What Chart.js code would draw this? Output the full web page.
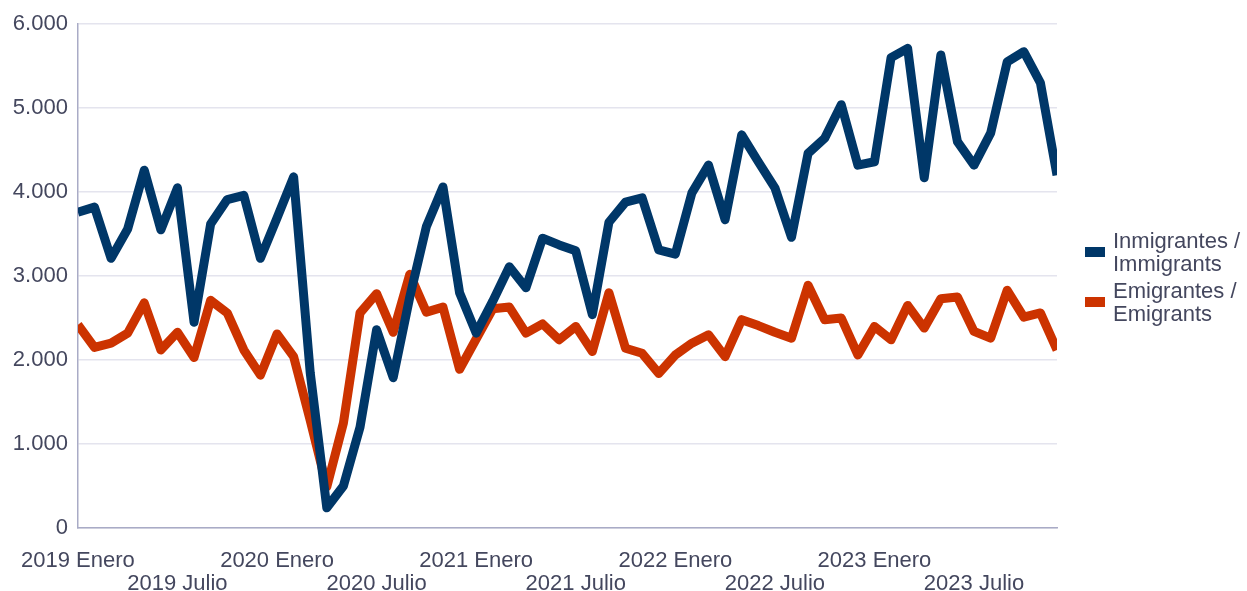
<!DOCTYPE html>
<html lang="es">
<head>
  <meta charset="UTF-8">
  <title>Inmigrantes / Emigrantes</title>
  <script src="https://cdn.jsdelivr.net/npm/chart.js"></script>
  <style>
    body {
      margin: 0;
      background: #fff;
      font-family: 'Liberation Sans', Arial, sans-serif;
    }
    .wrap {
      position: relative;
      width: 1247px;
      height: 591px;
    }
    .legend {
      position: absolute;
      left: 1085px;
      top: 229px;
      color: #44475e;
      font-size: 22px;
      line-height: 23px;
    }
    .legend .item {
      position: relative;
      padding-left: 28px;
      margin-bottom: 4px;
    }
    .legend .box {
      position: absolute;
      left: 0;
      top: 18px;
      width: 20px;
      height: 10px;
    }
  </style>
</head>
<body>
  <div class="wrap">
    <canvas id="grafico"></canvas>
    <div class="legend">
      <div class="item"><span class="box" style="background:#003768"></span>Inmigrantes /<br>Immigrants</div>
      <div class="item"><span class="box" style="background:#cc3300"></span>Emigrantes /<br>Emigrants</div>
    </div>
  </div>

  <script>
    const anios = ['2019', '2020', '2021', '2022', '2023'];
    const meses = ['Enero', 'Febrero', 'Marzo', 'Abril', 'Mayo', 'Junio',
                   'Julio', 'Agosto', 'Septiembre', 'Octubre', 'Noviembre', 'Diciembre'];

    const etiquetasEje = ['2019 Enero', '2019 Julio', '2020 Enero', '2020 Julio', '2021 Enero',
                          '2021 Julio', '2022 Enero', '2022 Julio', '2023 Enero', '2023 Julio'];

    const inmigrantes = [3760, 3820, 3210, 3560, 4260, 3550, 4050, 2450, 3620, 3910,
                         3960, 3210, 3690, 4180, 1850, 240, 500, 1200, 2360, 1790,
                         2750, 3590, 4060, 2800, 2320, 2700, 3110, 2860, 3450, 3370,
                         3300, 2540, 3640, 3880, 3930, 3310, 3260, 3990, 4320, 3670,
                         4680, 4360, 4050, 3460, 4460, 4640, 5040, 4320, 4360, 5600,
                         5710, 4170, 5630, 4600, 4320, 4700, 5550, 5670, 5300, 4200];

    const emigrantes = [2420, 2150, 2200, 2320, 2680, 2120, 2330, 2030, 2710, 2560,
                        2120, 1820, 2310, 2040, 1280, 490, 1250, 2560, 2790, 2330,
                        3020, 2570, 2630, 1890, 2250, 2610, 2630, 2320, 2430, 2240,
                        2400, 2100, 2800, 2140, 2080, 1840, 2060, 2200, 2300, 2040,
                        2480, 2410, 2330, 2260, 2890, 2480, 2500, 2060, 2400, 2240,
                        2650, 2380, 2730, 2750, 2340, 2260, 2830, 2510, 2560, 2120];

    const categorias = [];
    anios.forEach(a => meses.forEach(m => categorias.push(a + ' ' + m)));

    const colorTexto = '#44475e';
    const colorEje = '#a9abc6';
    const fuente = "'Liberation Sans', Arial, sans-serif";

    new Chart(document.getElementById('grafico'), {
      type: 'line',
      data: {
        labels: categorias,
        datasets: [{
          label: 'Inmigrantes / Immigrants',
          data: inmigrantes,
          borderColor: '#003768',
          backgroundColor: '#003768',
          borderWidth: 9,
          borderJoinStyle: 'round',
          pointRadius: 0,
          tension: 0,
          clip: 0
        }, {
          label: 'Emigrantes / Emigrants',
          data: emigrantes,
          borderColor: '#cc3300',
          backgroundColor: '#cc3300',
          borderWidth: 9,
          borderJoinStyle: 'round',
          pointRadius: 0,
          tension: 0,
          clip: 0
        }]
      },
      options: {
        responsive: true,
        maintainAspectRatio: false,
        animation: false,
        layout: { padding: { top: 24, right: 190, left: 0, bottom: 0 } },
        plugins: {
          legend: { display: false },
          tooltip: { enabled: false }
        },
        scales: {
          x: {
            grid: { display: false, drawTicks: false },
            border: { display: true, color: colorEje, width: 1.5 },
            afterFit: s => { s.height = 63; },
            ticks: {
              autoSkip: false,
              maxRotation: 0,
              minRotation: 0,
              padding: 21,
              color: colorTexto,
              font: { family: fuente, size: 22, lineHeight: 1.05 },
              callback: (v, i) => {
                if (i % 6 !== 0) return '';
                const t = etiquetasEje[i / 6];
                return i % 12 === 0 ? [t, ''] : ['', t];
              }
            }
          },
          y: {
            min: 0,
            max: 6000,
            grid: { color: '#e4e4ee', lineWidth: 1.5, drawTicks: false },
            border: { display: true, color: colorEje, width: 1.5 },
            afterFit: s => { s.width = 77; },
            ticks: {
              stepSize: 1000,
              padding: 10,
              color: colorTexto,
              font: { family: fuente, size: 22 },
              callback: v => v.toLocaleString('de-DE')
            }
          }
        }
      }
    });
  </script>
</body>
</html>
